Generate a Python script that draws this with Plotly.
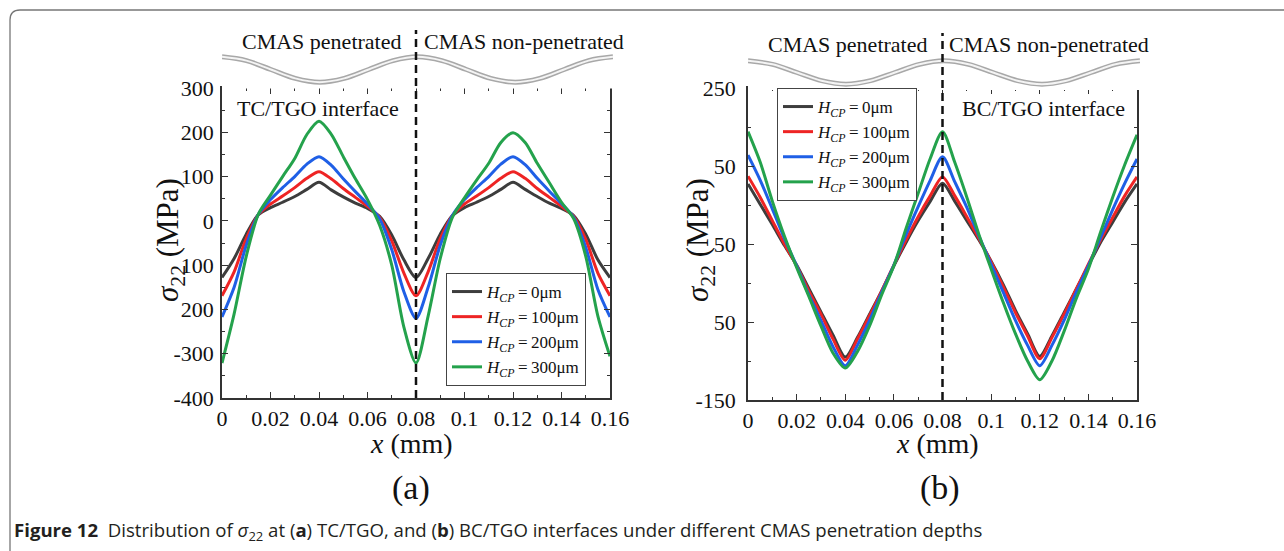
import plotly.graph_objects as go

W, H = 1284, 551

# ---------------- data ----------------
X = [0, 0.005, 0.01, 0.015, 0.02, 0.025, 0.03, 0.035, 0.04, 0.045, 0.05, 0.055, 0.06, 0.065, 0.07, 0.075, 0.08,
     0.085, 0.09, 0.095, 0.1, 0.105, 0.11, 0.115, 0.12, 0.125, 0.13, 0.135, 0.14, 0.145, 0.15, 0.155, 0.16]

SERIES_NAMES = ["0μm", "100μm", "200μm", "300μm"]

TC_0 = [-128, -85, -30, 14, 30, 42, 55, 71, 87, 70, 54, 40, 28, 10, -32, -88, -128,
        -85, -30, 12, 30, 42, 55, 71, 87, 71, 55, 40, 28, 12, -30, -88, -128]
TC_100 = [-169, -115, -40, 14, 38, 56, 75, 96, 111, 95, 73, 53, 33, 8, -45, -118, -169,
          -115, -40, 12, 38, 56, 75, 96, 111, 96, 73, 53, 33, 10, -42, -118, -169]
TC_200 = [-217, -150, -55, 15, 48, 75, 100, 128, 145, 126, 95, 66, 38, 5, -65, -160, -220,
          -150, -55, 12, 48, 75, 100, 128, 145, 127, 96, 67, 39, 8, -60, -155, -217]
TC_300 = [-321, -210, -80, 15, 58, 100, 141, 195, 225, 196, 145, 95, 48, -10, -100, -240, -321,
          -215, -85, 8, 52, 92, 130, 177, 199, 177, 130, 86, 42, 5, -80, -215, -306]

BC_0 = [127, 101, 75, 48, 23, -7, -37, -67, -95, -70, -40, -10, 22, 52, 80, 105, 128,
        105, 80, 55, 28, -2, -35, -65, -94, -68, -38, -8, 22, 52, 78, 104, 127]
BC_100 = [137, 110, 80, 50, 22, -10, -40, -72, -99, -72, -42, -10, 23, 55, 85, 112, 136,
          112, 85, 57, 27, -5, -38, -68, -97, -70, -40, -8, 24, 55, 84, 112, 136]
BC_200 = [164, 132, 95, 57, 22, -15, -48, -82, -106, -80, -48, -12, 23, 62, 98, 132, 162,
          130, 97, 60, 24, -12, -48, -80, -106, -80, -48, -12, 22, 58, 94, 128, 159]
BC_300 = [194, 155, 105, 60, 20, -17, -55, -90, -109, -88, -55, -15, 22, 70, 115, 160, 194,
          155, 110, 62, 18, -25, -65, -100, -124, -100, -62, -20, 18, 65, 110, 152, 190]

TC_TICKVALS = [-400, -300, -200, -100, 0, 100, 200, 300]
TC_TICKTEXT = ["-400", "-300", "200", "100", "0", "100", "200", "300"]
BC_TICKVALS = [-150, -50, 50, 150, 250]
BC_TICKTEXT = ["-150", "50", "50", "50", "250"]

# interface outline sketch (waviness of the TGO)
WAVE_X = [0, 0.01, 0.02, 0.03, 0.04, 0.05, 0.06, 0.07, 0.08, 0.09, 0.10, 0.11, 0.12, 0.13, 0.14, 0.15, 0.16]
WAVE_Y = [1, 0.7, 0, -0.7, -1, -0.7, 0, 0.7, 1, 0.7, 0, -0.7, -1, -0.7, 0, 0.7, 1]

BOUNDARY_X = 0.08
X_RANGE = [0, 0.16]

COLORS = ["#3d3d3d", "#ee2424", "#1f5fe6", "#24a24c"]
SERIF = "Liberation Serif, Times New Roman, serif"


def px(x):
    return x / W


def py(y):
    return 1 - y / H


# layout boxes in pixels
L_X0, L_X1, L_Y0, L_Y1 = 222, 610, 88, 398
R_X0, R_X1, R_Y0, R_Y1 = 748, 1137, 88, 400

fig = go.Figure()


def legend_name(n):
    return "<i>H</i><sub><i>CP</i></sub>\u2009=\u2009" + n


for vals, name, col in zip([TC_0, TC_100, TC_200, TC_300], SERIES_NAMES, COLORS):
    fig.add_trace(go.Scatter(x=X, y=vals, mode="lines", name=legend_name(name),
                             line=dict(color=col, width=3, shape="spline", smoothing=0.8),
                             xaxis="x", yaxis="y", legend="legend"))
for vals, name, col in zip([BC_0, BC_100, BC_200, BC_300], SERIES_NAMES, COLORS):
    fig.add_trace(go.Scatter(x=X, y=vals, mode="lines", name=legend_name(name),
                             line=dict(color=col, width=3, shape="spline", smoothing=0.8),
                             xaxis="x2", yaxis="y2", legend="legend2"))

# waves above plots (own invisible axes)
for xa, ya in [("x3", "y3"), ("x4", "y4")]:
    fig.add_trace(go.Scatter(x=WAVE_X, y=WAVE_Y, mode="lines", showlegend=False, hoverinfo="skip",
                             line=dict(color="#a8a8a8", width=5, shape="spline", smoothing=1),
                             xaxis=xa, yaxis=ya))
    fig.add_trace(go.Scatter(x=WAVE_X, y=WAVE_Y, mode="lines", showlegend=False, hoverinfo="skip",
                             line=dict(color="#f4f4f4", width=2, shape="spline", smoothing=1),
                             xaxis=xa, yaxis=ya))

tickfont = dict(family=SERIF, size=22, color="#111")
axline = dict(showline=True, linecolor="#333", linewidth=1.6, mirror="allticks",
              ticks="inside", ticklen=6, tickwidth=1.4, tickcolor="#333",
              showgrid=False, zeroline=False, tickfont=tickfont)

xcommon = dict(range=X_RANGE, tickmode="linear", tick0=0, dtick=0.02,
               minor=dict(ticks="inside", ticklen=3, tickwidth=1.2, tickcolor="#333",
                          tickmode="linear", tick0=0, dtick=0.01, showgrid=False),
               **axline)

legend_common = dict(xanchor="left", yanchor="top", bgcolor="white", bordercolor="#444", borderwidth=1,
                     font=dict(family=SERIF, size=17, color="#111"), itemwidth=30, tracegroupgap=0)

fig.update_layout(
    width=W, height=H, margin=dict(l=0, r=0, t=0, b=0, autoexpand=False),
    paper_bgcolor="white", plot_bgcolor="white",
    xaxis=dict(domain=[px(L_X0), px(L_X1)], anchor="y", **xcommon),
    yaxis=dict(domain=[py(L_Y1), py(L_Y0)], anchor="x", range=[-400, 300],
               tickmode="array", tickvals=TC_TICKVALS, ticktext=TC_TICKTEXT,
               minor=dict(ticks="inside", ticklen=3, tickwidth=1.2, tickcolor="#333",
                          tickmode="linear", tick0=50, dtick=100, showgrid=False),
               ticklabelstandoff=2, **axline),
    xaxis2=dict(domain=[px(R_X0), px(R_X1)], anchor="y2", **xcommon),
    yaxis2=dict(domain=[py(R_Y1), py(R_Y0)], anchor="x2", range=[-150, 250],
                tickmode="array", tickvals=BC_TICKVALS, ticktext=BC_TICKTEXT,
                minor=dict(ticks="inside", ticklen=3, tickwidth=1.2, tickcolor="#333",
                           tickmode="linear", tick0=0, dtick=100, showgrid=False),
                ticklabelstandoff=6, **axline),
    xaxis3=dict(domain=[px(L_X0), px(L_X1 + 3)], anchor="y3", range=X_RANGE, visible=False),
    yaxis3=dict(domain=[py(88.5), py(50.5)], anchor="x3", range=[-1.5, 1.5], visible=False),
    xaxis4=dict(domain=[px(R_X0), px(R_X1 + 3)], anchor="y4", range=X_RANGE, visible=False),
    yaxis4=dict(domain=[py(90), py(55)], anchor="x4", range=[-1.5, 1.5], visible=False),
    legend=dict(x=px(446), y=py(273), **legend_common),
    legend2=dict(x=px(777), y=py(88), **legend_common),
    showlegend=True,
)

# dashed boundary lines
frac = (BOUNDARY_X - X_RANGE[0]) / (X_RANGE[1] - X_RANGE[0])
for xr, yr, top, y0p, y1p in [("x domain", "y domain", 30, L_Y0, L_Y1), ("x2 domain", "y2 domain", 33, R_Y0, R_Y1)]:
    fig.add_shape(type="line", xref=xr, yref=yr, x0=frac, x1=frac, y0=0,
                  y1=(y1p - top) / (y1p - y0p), layer="above",
                  line=dict(color="#111", width=2.5, dash="8px,5px"))

# outer figure frame
fr = "M {a},{b} L {a},{c} Q {a},{d} {e},{d} L {f},{d}".format(
    a=px(10), b=py(560), c=py(20), d=py(10), e=px(20), f=px(1300))
fig.add_shape(type="path", xref="paper", yref="paper", path=fr,
              line=dict(color="#777", width=1.3))

ann = []


def text(x, y, t, size, xanchor="center", angle=0, family=SERIF, color="#111"):
    ann.append(dict(x=px(x), y=py(y), xref="paper", yref="paper", text=t, showarrow=False,
                    xanchor=xanchor, yanchor="middle", textangle=angle,
                    font=dict(family=family, size=size, color=color)))


text(403, 42, "CMAS penetrated", 22, "right")
text(422, 42, "CMAS non-penetrated", 22, "left")
text(929, 45, "CMAS penetrated", 22, "right")
text(947, 45, "CMAS non-penetrated", 22, "left")
text(235, 108, "TC/TGO interface", 22, "left")
text(960, 108, "BC/TGO interface", 22, "left")
text(170, 240, "<i>σ</i><sub>22</sub> (MPa)", 31, angle=-90)
text(700, 240, "<i>σ</i><sub>22</sub> (MPa)", 31, angle=-90)
text(411, 443, "<i>x</i> (mm)", 28)
text(937, 443, "<i>x</i> (mm)", 28)
text(411, 488, "(a)", 34)
text(940, 488, "(b)", 34)
text(12, 531, "<b>Figure 12</b>  Distribution of <i>σ</i><sub>22</sub> at (<b>a</b>) TC/TGO, and (<b>b</b>) "
     "BC/TGO interfaces under different CMAS penetration depths", 18.6, "left",
     family="Open Sans, Noto Sans, sans-serif", color="#231f20")

fig.update_layout(annotations=ann)

fig.write_html("out.html",
               post_script="document.body.style.margin='0px';"
                           "document.documentElement.style.overflow='hidden';"
                           "document.body.style.overflow='hidden';")
